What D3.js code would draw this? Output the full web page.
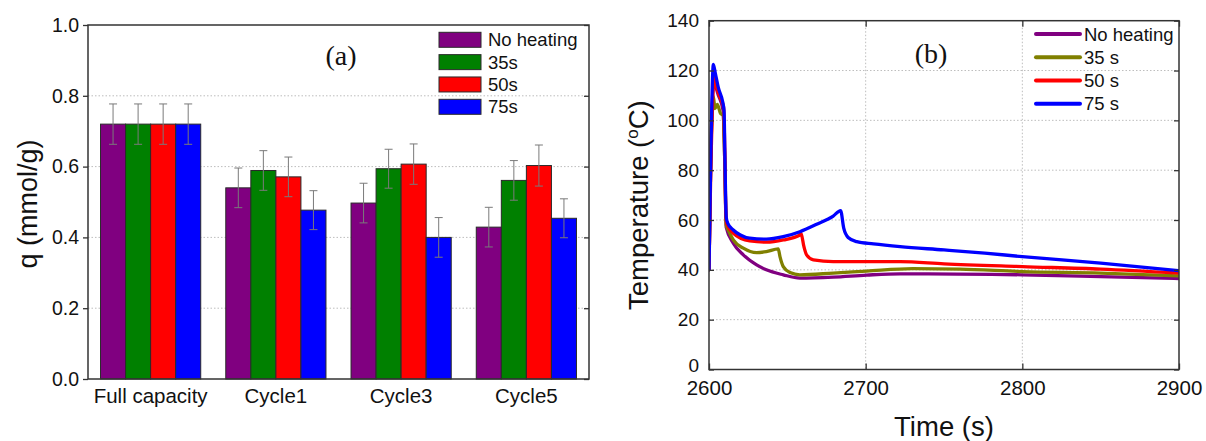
<!DOCTYPE html>
<html><head><meta charset="utf-8">
<script src="https://cdn.jsdelivr.net/npm/d3@7"></script>
<style>
html,body{margin:0;padding:0;background:#fff;}
svg{display:block;}
text{font-family:Arial,"Liberation Sans",sans-serif;fill:#111;}
</style></head>
<body>
<svg id="chart" width="1206" height="441"></svg>
<script>
// ---------- Panel (a) data ----------
const categories = ["Full capacity", "Cycle1", "Cycle3", "Cycle5"];
const barSeries = ["No heating", "35s", "50s", "75s"];
const qNoHeating = [0.720, 0.540, 0.497, 0.429];
const q35s = [0.720, 0.589, 0.594, 0.561];
const q50s = [0.720, 0.571, 0.607, 0.603];
const q75s = [0.720, 0.477, 0.400, 0.454];
const errNoHeating = [0.057, 0.056, 0.056, 0.056];
const err35s = [0.057, 0.056, 0.055, 0.056];
const err50s = [0.057, 0.056, 0.057, 0.058];
const err75s = [0.057, 0.055, 0.056, 0.055];
const yTicksA = [0.0, 0.2, 0.4, 0.6, 0.8, 1.0];

// ---------- Panel (b) data: [time s, temperature °C] ----------
const lineSeries = ["No heating", "35 s", "50 s", "75 s"];
const tNoHeating = [[2600,40],[2601,80],[2603,115],[2606,110],[2609,104],[2610,85],[2611,57],[2615.5,50.7],[2621.9,46],[2630.4,42],[2636.6,40],[2647.4,38],[2658,36.7],[2679.3,37.1],[2700.6,37.9],[2722,38.4],[2740,38.4],[2800,38],[2850,37.3],[2900,36.5]];
const t35s = [[2600,40],[2601,80],[2602.8,109.6],[2603.8,104.7],[2605.3,106.4],[2607.4,102.7],[2609,102],[2610,85],[2611,58],[2612.3,56],[2615.5,52],[2621.9,48.7],[2630.4,46.9],[2636.6,47.3],[2644.2,48.4],[2645.3,45.3],[2647.4,41.3],[2651.7,38.9],[2658,38],[2679.3,38.7],[2700.6,39.5],[2730,40.5],[2760,40.3],[2800,39.3],[2850,38.7],[2900,37.6]];
const t50s = [[2600,40],[2601,75],[2603.4,118],[2605,113],[2607,109.3],[2609.3,105.3],[2610,90],[2610.8,62],[2611.5,58.3],[2615.5,54.7],[2626,51.6],[2636.6,51.1],[2647.4,52],[2658,54],[2658.7,54.7],[2660.6,49.3],[2662.3,46],[2666.6,44],[2679.3,43.3],[2722,43.3],[2750,42.4],[2800,41.3],[2850,40.3],[2900,38.7]];
const t75s = [[2600,40],[2601,80],[2602.8,122.5],[2604,119],[2606,113],[2608.7,107.5],[2609.6,104],[2610.3,80],[2611,61],[2612,58.7],[2615.5,56],[2620,54],[2626,52.7],[2636.6,52.3],[2647.4,53.3],[2658,55.3],[2668.7,58.3],[2679.3,61.6],[2684,63.8],[2686,56.7],[2688.8,53],[2694.3,51.3],[2705,50.4],[2722,49.3],[2750,48],[2776,46.7],[2800,45.3],[2850,42.7],[2900,39.7]];
const xTicksB = [2600, 2700, 2800, 2900];
const yTicksB = [0, 20, 40, 60, 80, 100, 120, 140];

// ---------- styling ----------
const barColors = ["#800080", "#008000", "#ff0000", "#0000ff"];
const lineColors = ["#800080", "#808000", "#ff0000", "#0000ff"];
const frameColor = "#333";
const gridColor = "#bdbdbd";

const svg = d3.select("#chart");

// ================= Panel (a) =================
const A = {l: 88, r: 589, t: 25, b: 379};
const xA = d3.scaleBand().domain(categories).range([A.l, A.r]).paddingInner(0.2).paddingOuter(0.1);
const xSub = d3.scaleBand().domain(barSeries).range([0, xA.bandwidth()]);
const yA = d3.scaleLinear().domain([0, 1]).range([A.b, A.t]);

const gA = svg.append("g");
gA.append("g").selectAll("line").data(yTicksA.filter(d => d > 0 && d < 1)).join("line")
  .attr("x1", A.l).attr("x2", A.r).attr("y1", d => yA(d)).attr("y2", d => yA(d))
  .attr("stroke", gridColor).attr("stroke-width", 1).attr("stroke-dasharray", "1.5,2");

const valuesA = [qNoHeating, q35s, q50s, q75s];
const errsA = [errNoHeating, err35s, err50s, err75s];
const barData = [];
categories.forEach((c, i) => barSeries.forEach((s, j) => barData.push({c, s, j, v: valuesA[j][i], e: errsA[j][i]})));

gA.append("g").selectAll("rect").data(barData).join("rect")
  .attr("x", d => xA(d.c) + xSub(d.s))
  .attr("y", d => yA(d.v))
  .attr("width", xSub.bandwidth())
  .attr("height", d => yA(0) - yA(d.v))
  .attr("fill", d => barColors[d.j])
  .attr("stroke", "#2a2a2a").attr("stroke-width", 1);

const cx = d => xA(d.c) + xSub(d.s) + xSub.bandwidth() / 2;
const eb = gA.append("g").attr("stroke", "#7a7a7a").attr("stroke-width", 1);
eb.selectAll("line.v").data(barData).join("line").attr("class", "v")
  .attr("x1", cx).attr("x2", cx)
  .attr("y1", d => yA(d.v + d.e)).attr("y2", d => yA(d.v - d.e));
eb.selectAll("line.t").data(barData).join("line").attr("class", "t")
  .attr("x1", d => cx(d) - 4).attr("x2", d => cx(d) + 4)
  .attr("y1", d => yA(d.v + d.e)).attr("y2", d => yA(d.v + d.e));
eb.selectAll("line.b").data(barData).join("line").attr("class", "b")
  .attr("x1", d => cx(d) - 4).attr("x2", d => cx(d) + 4)
  .attr("y1", d => yA(d.v - d.e)).attr("y2", d => yA(d.v - d.e));

const axLA = gA.append("g").attr("transform", `translate(${A.l},0)`)
  .call(d3.axisLeft(yA).tickValues(yTicksA).tickFormat(d3.format(".1f")).tickSize(5).tickPadding(4));
const axRA = gA.append("g").attr("transform", `translate(${A.r},0)`)
  .call(d3.axisLeft(yA).tickValues(yTicksA).tickFormat("").tickSize(5));
const axBA = gA.append("g").attr("transform", `translate(0,${A.b})`)
  .call(d3.axisBottom(xA).tickSize(0).tickPadding(10));
[axLA, axRA, axBA].forEach(g => {
  g.select(".domain").remove();
  g.selectAll("line").attr("stroke", frameColor).attr("stroke-width", 1.3);
  g.selectAll("text").attr("fill", "#111").attr("font-family", 'Arial,"Liberation Sans",sans-serif');
});
axLA.selectAll("text").attr("font-size", 19.5);
axBA.selectAll("text").attr("font-size", 20.5).attr("dy", "0.71em").attr("y", 9.5);

gA.append("rect").attr("x", A.l).attr("y", A.t).attr("width", A.r - A.l).attr("height", A.b - A.t)
  .attr("fill", "none").attr("stroke", frameColor).attr("stroke-width", 1.5);

gA.append("text").attr("transform", `translate(37,${(A.t + A.b) / 2 + 2}) rotate(-90)`)
  .attr("text-anchor", "middle").attr("font-size", 27).text("q (mmol/g)");

gA.append("text").attr("x", 341).attr("y", 65).attr("text-anchor", "middle")
  .style("font-family", '"Times New Roman","Liberation Serif",serif')
  .attr("font-size", 28).text("(a)");

const legA = gA.append("g");
const legAy = d3.scalePoint().domain(barSeries).range([32.3, 99.3]);
legA.selectAll("rect").data(barSeries).join("rect")
  .attr("x", 439).attr("y", d => legAy(d)).attr("width", 42).attr("height", 15)
  .attr("fill", (d, i) => barColors[i]).attr("stroke", "#2a2a2a").attr("stroke-width", 1);
legA.selectAll("text").data(barSeries).join("text")
  .attr("x", 488).attr("y", d => legAy(d) + 14).attr("font-size", 18.5).text(d => d);

// ================= Panel (b) =================
const B = {l: 709, r: 1179, t: 20.7, b: 369.5};
const xB = d3.scaleLinear().domain([2600, 2900]).range([B.l, B.r]);
const yB = d3.scaleLinear().domain([0, 140]).range([B.b, B.t]);
const gB = svg.append("g");

gB.append("g").selectAll("line").data(yTicksB.filter(d => d > 0 && d < 140)).join("line")
  .attr("x1", B.l).attr("x2", B.r).attr("y1", d => yB(d)).attr("y2", d => yB(d))
  .attr("stroke", gridColor).attr("stroke-width", 1).attr("stroke-dasharray", "1.5,2");
gB.append("g").selectAll("line").data(xTicksB.filter(d => d > 2600 && d < 2900)).join("line")
  .attr("y1", B.t).attr("y2", B.b).attr("x1", d => xB(d)).attr("x2", d => xB(d))
  .attr("stroke", gridColor).attr("stroke-width", 1).attr("stroke-dasharray", "1.5,2");

const linesB = [tNoHeating, t35s, t50s, t75s];
const lineGen = d3.line().x(d => xB(d[0])).y(d => yB(d[1])).curve(d3.curveMonotoneX);
svg.append("clipPath").attr("id", "clipB").append("rect")
  .attr("x", B.l).attr("y", B.t).attr("width", B.r - B.l).attr("height", B.b - B.t);
gB.append("g").attr("clip-path", "url(#clipB)").selectAll("path").data(linesB).join("path")
  .attr("d", lineGen).attr("fill", "none")
  .attr("stroke", (d, i) => lineColors[i]).attr("stroke-width", 3.3)
  .attr("stroke-linejoin", "round").attr("stroke-linecap", "round");

const axLB = gB.append("g").attr("transform", `translate(${B.l},0)`)
  .call(d3.axisLeft(yB).tickValues(yTicksB).tickSizeInner(-5).tickSizeOuter(0).tickPadding(10));
const axRB = gB.append("g").attr("transform", `translate(${B.r},0)`)
  .call(d3.axisLeft(yB).tickValues(yTicksB).tickFormat("").tickSize(5));
const axBB = gB.append("g").attr("transform", `translate(0,${B.b})`)
  .call(d3.axisBottom(xB).tickValues(xTicksB).tickFormat(d3.format("d")).tickSizeInner(-6).tickSizeOuter(0).tickPadding(11));
const axTB = gB.append("g").attr("transform", `translate(0,${B.t})`)
  .call(d3.axisBottom(xB).tickValues(xTicksB).tickFormat("").tickSize(6));
[axLB, axRB, axBB, axTB].forEach(g => {
  g.select(".domain").remove();
  g.selectAll("line").attr("stroke", frameColor).attr("stroke-width", 1.3);
  g.selectAll("text").attr("fill", "#111").attr("font-family", 'Arial,"Liberation Sans",sans-serif');
});
axLB.selectAll("text").attr("font-size", 19);
axLB.selectAll(".tick").filter(d => d === 0).select("text").attr("dy", "0.1em");
axBB.selectAll("text").attr("font-size", 20.5);

gB.append("rect").attr("x", B.l).attr("y", B.t).attr("width", B.r - B.l).attr("height", B.b - B.t)
  .attr("fill", "none").attr("stroke", frameColor).attr("stroke-width", 1.5);

gB.append("text").attr("x", 944).attr("y", 436).attr("text-anchor", "middle").attr("font-size", 27.5).text("Time (s)");
const yt = gB.append("text").attr("transform", `translate(648,${(B.t + B.b) / 2 + 10}) rotate(-90)`)
  .attr("text-anchor", "middle").attr("font-size", 27.5);
yt.append("tspan").text("Temperature (");
yt.append("tspan").attr("font-size", 17).attr("dy", -10).text("o");
yt.append("tspan").attr("dy", 10).text("C)");

gB.append("text").attr("x", 931).attr("y", 63).attr("text-anchor", "middle")
  .style("font-family", '"Times New Roman","Liberation Serif",serif')
  .attr("font-size", 28).text("(b)");

const legB = gB.append("g");
const legBy = d3.scalePoint().domain(lineSeries).range([34, 103.7]);
legB.selectAll("line").data(lineSeries).join("line")
  .attr("x1", 1036).attr("x2", 1080).attr("y1", d => legBy(d)).attr("y2", d => legBy(d))
  .attr("stroke", (d, i) => lineColors[i]).attr("stroke-width", 4).attr("stroke-linecap", "round");
legB.selectAll("text").data(lineSeries).join("text")
  .attr("x", 1084).attr("y", d => legBy(d) + 6.5).attr("font-size", 18.5).text(d => d);
</script>
</body></html>
